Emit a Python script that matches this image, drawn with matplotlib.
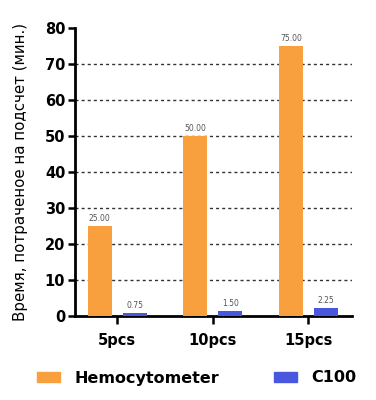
import numpy as np
import matplotlib.pyplot as plt
from matplotlib.patches import Patch

categories = ['5pcs', '10pcs', '15pcs']
hemocytometer = [25.00, 50.00, 75.00]
c100 = [0.75, 1.50, 2.25]
yticks = [0, 10, 20, 30, 40, 50, 60, 70, 80]

orange = '#F8A03D'
blue = '#4857DD'

fig = plt.figure(figsize=(3.76, 4.0), dpi=100)
ax = fig.add_axes([0.1995, 0.21, 0.7365, 0.72])

x = np.arange(len(categories))
w = 0.25
b1 = ax.bar(x - 0.18, hemocytometer, w, color=orange, zorder=3)
b2 = ax.bar(x + 0.185, c100, w, color=blue, zorder=3)

for bars, vals in [(b1, hemocytometer), (b2, c100)]:
    for r, v in zip(bars, vals):
        ax.text(r.get_x() + r.get_width() / 2, v + 0.8, f'{v:.2f}',
                ha='center', va='bottom', fontsize=5.5, color='#555555')

ax.set_xlim(-0.44, 2.46)
ax.set_ylim(0, 80)
ax.set_yticks(yticks)
ax.set_xticks(x)
ax.set_xticklabels(categories)
for lbl in ax.get_xticklabels() + ax.get_yticklabels():
    lbl.set_fontweight('bold')
    lbl.set_fontsize(10.5)
ax.tick_params(axis='y', length=5, width=1.8, pad=2)
ax.tick_params(axis='x', length=6, width=1.8, pad=6)

for y in yticks[1:-1]:
    ax.axhline(y, color='#333333', linestyle=(0, (2.2, 2.2)), linewidth=1.0, zorder=1)

ax.spines['top'].set_visible(False)
ax.spines['right'].set_visible(False)
ax.spines['left'].set_linewidth(2)
ax.spines['bottom'].set_linewidth(2)

ax.set_ylabel('Время, потраченое на подсчет (мин.)', fontsize=10.8, labelpad=12)

handles = [Patch(color=orange), Patch(color=blue)]
fig.legend(handles, ['Hemocytometer', 'C100'], loc='center', bbox_to_anchor=(0.523, 0.055),
           ncol=2, frameon=False, prop={'weight': 'bold', 'size': 11.5},
           handlelength=1.45, handleheight=0.6, columnspacing=3.4, handletextpad=0.9)

fig.savefig('out.png', dpi=100)
